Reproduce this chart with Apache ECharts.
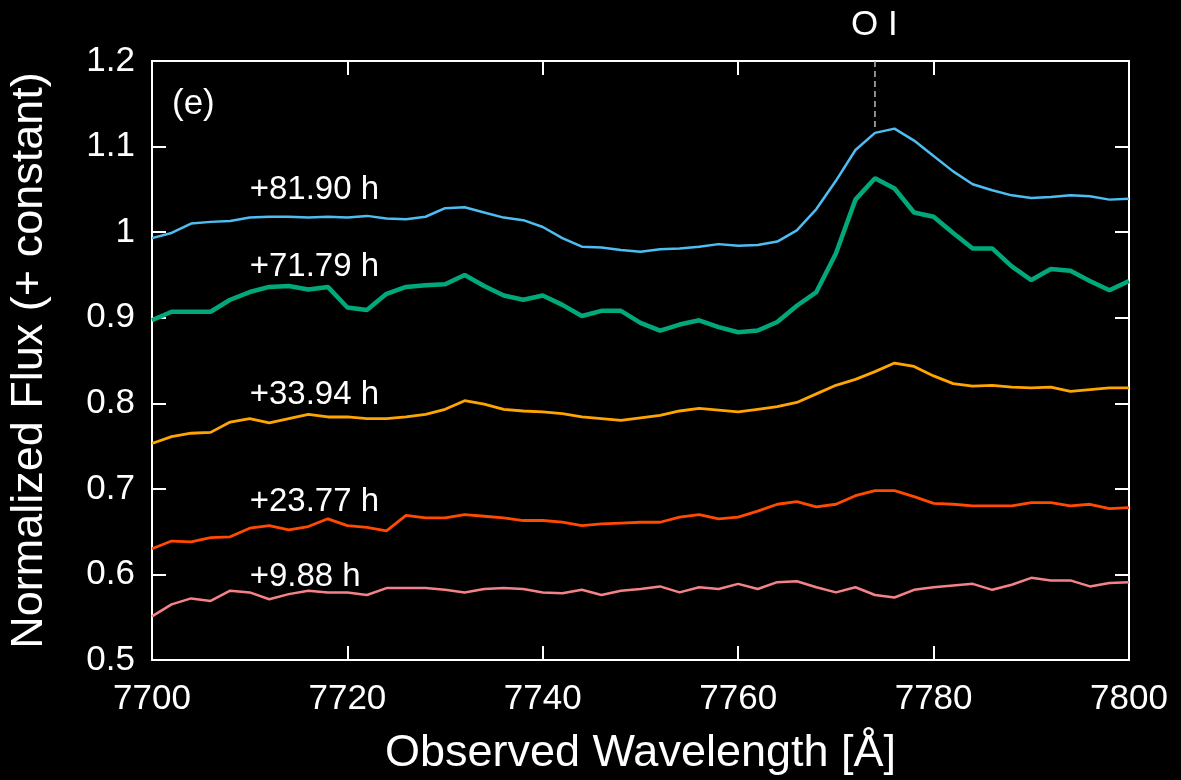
<!DOCTYPE html>
<html>
<head>
<meta charset="utf-8">
<script src="https://cdn.jsdelivr.net/npm/echarts@6/dist/echarts.min.js"></script>
<style>
html,body{margin:0;padding:0;background:#000;}
#chart{width:1181px;height:780px;}
</style>
</head>
<body>
<div id="chart"></div>
<script>
// Observed wavelength grid (Å)
const wavelength = [7700,7702,7704,7706,7708,7710,7712,7714,7716,7718,7720,7722,7724,7726,7728,7730,7732,7734,7736,7738,7740,7742,7744,7746,7748,7750,7752,7754,7756,7758,7760,7762,7764,7766,7768,7770,7772,7774,7776,7778,7780,7782,7784,7786,7788,7790,7792,7794,7796,7798,7800];

const flux_8190 = [0.993,0.999,1.010,1.012,1.013,1.017,1.018,1.018,1.017,1.018,1.017,1.019,1.016,1.015,1.018,1.028,1.029,1.023,1.017,1.014,1.006,0.993,0.983,0.982,0.979,0.977,0.980,0.981,0.983,0.986,0.984,0.985,0.989,1.002,1.027,1.060,1.096,1.116,1.121,1.107,1.089,1.071,1.056,1.049,1.043,1.040,1.041,1.043,1.042,1.038,1.039];
const flux_7179 = [0.897,0.907,0.907,0.907,0.921,0.930,0.936,0.937,0.933,0.936,0.912,0.909,0.928,0.936,0.938,0.939,0.950,0.937,0.926,0.921,0.926,0.915,0.902,0.908,0.908,0.894,0.885,0.892,0.897,0.889,0.883,0.885,0.895,0.914,0.930,0.975,1.038,1.063,1.051,1.023,1.018,0.999,0.981,0.981,0.960,0.944,0.957,0.955,0.943,0.932,0.943];
const flux_3394 = [0.753,0.761,0.765,0.766,0.778,0.782,0.777,0.782,0.787,0.784,0.784,0.782,0.782,0.784,0.787,0.793,0.803,0.799,0.793,0.791,0.790,0.788,0.784,0.782,0.780,0.783,0.786,0.791,0.794,0.792,0.790,0.793,0.796,0.801,0.811,0.821,0.828,0.837,0.847,0.843,0.832,0.823,0.820,0.821,0.819,0.818,0.819,0.814,0.816,0.818,0.818];
const flux_2377 = [0.630,0.639,0.638,0.643,0.644,0.654,0.657,0.652,0.656,0.665,0.657,0.655,0.651,0.669,0.666,0.666,0.670,0.668,0.666,0.663,0.663,0.661,0.657,0.659,0.660,0.661,0.661,0.667,0.670,0.665,0.667,0.674,0.682,0.685,0.679,0.682,0.692,0.698,0.698,0.691,0.683,0.682,0.680,0.680,0.680,0.684,0.684,0.680,0.682,0.677,0.678];
const flux_988  = [0.551,0.565,0.572,0.569,0.581,0.579,0.571,0.577,0.581,0.579,0.579,0.576,0.584,0.584,0.584,0.582,0.579,0.583,0.584,0.583,0.579,0.578,0.582,0.576,0.581,0.583,0.586,0.579,0.585,0.583,0.589,0.583,0.591,0.592,0.585,0.579,0.585,0.576,0.573,0.582,0.585,0.587,0.589,0.582,0.588,0.596,0.593,0.593,0.586,0.590,0.591];

const epochs = ['+81.90 h','+71.79 h','+33.94 h','+23.77 h','+9.88 h'];
const lineWavelength = 7774;   // O I feature marker
const lineName = 'O I';
const panelTag = '(e)';

const FONT = '"Liberation Sans", Arial, Helvetica, sans-serif';
const fluxes = [flux_8190, flux_7179, flux_3394, flux_2377, flux_988];
const colors = ['#4DBDF2', '#00A87A', '#FFA500', '#FF4A00', '#F58287'];
const widths = [2.5, 4.5, 2.8, 2.8, 2.5];
// label anchors (wavelength, flux) for each epoch text
const labelAnchor = [[7710,1.049],[7710,0.959],[7710,0.810],[7710,0.685],[7710,0.597]];

const chart = echarts.init(document.getElementById('chart'), null, {renderer:'canvas'});

const series = fluxes.map((f, i) => ({
  type: 'line',
  name: epochs[i],
  data: wavelength.map((w, j) => [w, f[j]]),
  showSymbol: false,
  symbol: 'none',
  lineStyle: {color: colors[i], width: widths[i]},
  z: 5 - i + 2,
  animation: false
}));

series.push({
  type: 'scatter',
  name: 'labels',
  symbolSize: 0,
  itemStyle: {opacity: 1, color: '#fff'},
  data: labelAnchor.map((a, i) => ({value: a, name: epochs[i]})),
  label: {
    show: true, position: 'right', distance: 0,
    formatter: p => p.name,
    color: '#ffffff', opacity: 1, fontSize: 33, fontFamily: FONT
  },
  silent: true,
  animation: false
});

series.push({
  type: 'line',
  name: 'marker',
  data: [[lineWavelength, 1.2], [lineWavelength, 1.122]],
  showSymbol: false,
  symbol: 'none',
  lineStyle: {color: '#bbbbbb', width: 1.5, type: [6, 4]},
  animation: false
});

const axisCommon = {
  axisLine: {show: true, lineStyle: {color: '#fff', width: 2}},
  axisTick: {show: true, inside: true, length: 14, lineStyle: {color: '#fff', width: 2}},
  splitLine: {show: false}
};

chart.setOption({
  backgroundColor: '#000',
  animation: false,
  grid: {left: 152, right: 52, top: 61, bottom: 120, containLabel: false, outerBoundsMode: 'none'},
  xAxis: [
    Object.assign({
      type: 'value', min: 7700, max: 7800, interval: 20, position: 'bottom',
      axisLabel: {color: '#fff', fontSize: 35, fontFamily: FONT, margin: 22, formatter: v => String(v)},
      name: 'Observed Wavelength [Å]', nameLocation: 'middle', nameGap: 71,
      nameTextStyle: {color: '#fff', fontSize: 45, fontFamily: FONT}
    }, axisCommon),
    Object.assign({
      type: 'value', min: 7700, max: 7800, interval: 20, position: 'top',
      axisLabel: {show: false}
    }, axisCommon)
  ],
  yAxis: [
    Object.assign({
      type: 'value', min: 0.5, max: 1.2, interval: 0.1, position: 'left',
      axisLabel: {color: '#fff', fontSize: 35, fontFamily: FONT, margin: 17,
        formatter: v => (Math.abs(v - 1) < 1e-9 ? '1' : v.toFixed(1))},
      name: 'Normalized Flux (+ constant)', nameLocation: 'middle', nameGap: 100,
      nameTextStyle: {color: '#fff', fontSize: 45, fontFamily: FONT}
    }, axisCommon),
    Object.assign({
      type: 'value', min: 0.5, max: 1.2, interval: 0.1, position: 'right',
      axisLabel: {show: false}
    }, axisCommon)
  ],
  graphic: [
    {type: 'text', left: 172, top: 87,
     style: {text: panelTag, fill: '#fff', fontSize: 35, fontFamily: FONT}},
    {type: 'text', left: 851, top: 8,
     style: {text: lineName, fill: '#fff', fontSize: 35, fontFamily: FONT}}
  ],
  series: series
});
</script>
</body>
</html>
